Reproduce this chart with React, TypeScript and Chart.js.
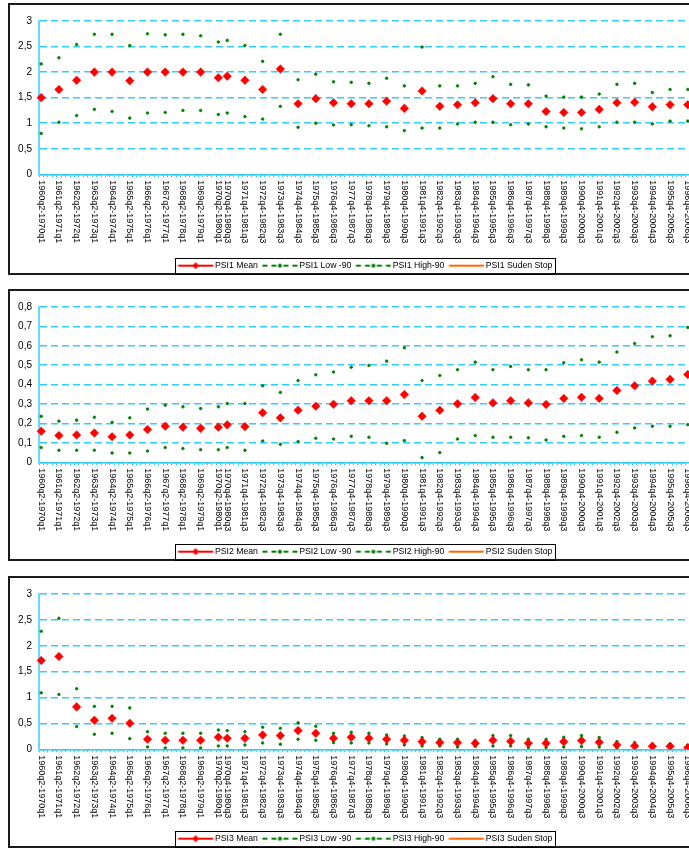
import React, { useEffect, useRef } from 'react';
import { Chart, registerables } from 'chart.js';

Chart.register(...registerables);

// ---------- data ----------
const windows = [
  '1960q2-1970q1', '1961q2-1971q1', '1962q2-1972q1', '1963q2-1973q1', '1964q2-1974q1',
  '1965q2-1975q1', '1966q2-1976q1', '1967q2-1977q1', '1968q2-1978q1', '1969q2-1979q1',
  '1970q2-1980q1', '1970q4-1980q3', '1971q4-1981q3', '1972q4-1982q3', '1973q4-1983q3',
  '1974q4-1984q3', '1975q4-1985q3', '1976q4-1986q3', '1977q4-1987q3', '1978q4-1988q3',
  '1979q4-1989q3', '1980q4-1990q3', '1981q4-1991q3', '1982q4-1992q3', '1983q4-1993q3',
  '1984q4-1994q3', '1985q4-1995q3', '1986q4-1996q3', '1987q4-1997q3', '1988q4-1998q3',
  '1989q4-1999q3', '1990q4-2000q3', '1991q4-2001q3', '1992q4-2002q3', '1993q4-2003q3',
  '1994q4-2004q3', '1995q4-2005q3', '1996q4-2006q3',
];

const psi1Mean = [1.50, 1.66, 1.84, 2.00, 2.00, 1.83, 2.00, 2.00, 2.00, 2.00, 1.89, 1.92, 1.84, 1.66, 2.06, 1.38, 1.48, 1.40,
  1.38, 1.38, 1.43, 1.29, 1.63, 1.33, 1.36, 1.40, 1.48, 1.38, 1.38, 1.23, 1.21, 1.21, 1.27, 1.40, 1.41, 1.32, 1.36, 1.36];
const psi1High = [2.16, 2.28, 2.54, 2.74, 2.74, 2.52, 2.75, 2.73, 2.74, 2.71, 2.59, 2.62, 2.52, 2.21, 2.74, 1.85, 1.96, 1.81,
  1.80, 1.78, 1.88, 1.73, 2.49, 1.73, 1.73, 1.78, 1.91, 1.76, 1.75, 1.53, 1.51, 1.51, 1.57, 1.76, 1.78, 1.60, 1.66, 1.66];
const psi1Low = [0.80, 1.02, 1.15, 1.27, 1.23, 1.10, 1.20, 1.21, 1.25, 1.25, 1.17, 1.20, 1.13, 1.08, 1.33, 0.92, 1.00, 0.965,
  0.97, 0.95, 0.93, 0.855, 0.905, 0.905, 0.985, 1.02, 1.02, 0.97, 0.985, 0.93, 0.905, 0.89, 0.93, 1.02, 1.02, 0.985, 1.04, 1.04];

const psi2Mean = [0.160, 0.138, 0.141, 0.151, 0.132, 0.141, 0.169, 0.186, 0.181, 0.175, 0.181, 0.193, 0.184, 0.255, 0.229, 0.268, 0.289, 0.299,
  0.317, 0.317, 0.317, 0.349, 0.237, 0.268, 0.301, 0.334, 0.306, 0.317, 0.306, 0.298, 0.329, 0.335, 0.329, 0.370, 0.394, 0.418, 0.427, 0.452];
const psi2High = [0.237, 0.212, 0.217, 0.232, 0.206, 0.229, 0.274, 0.294, 0.286, 0.277, 0.286, 0.303, 0.303, 0.394, 0.360, 0.421, 0.451, 0.465,
  0.490, 0.499, 0.521, 0.590, 0.421, 0.447, 0.477, 0.516, 0.477, 0.494, 0.477, 0.477, 0.513, 0.528, 0.516, 0.568, 0.612, 0.647, 0.652, 0.695];
const psi2Low = [0.076, 0.062, 0.062, 0.062, 0.048, 0.048, 0.058, 0.076, 0.071, 0.065, 0.065, 0.076, 0.062, 0.110, 0.093, 0.107, 0.124, 0.120,
  0.134, 0.129, 0.098, 0.112, 0.024, 0.050, 0.120, 0.138, 0.129, 0.129, 0.126, 0.115, 0.134, 0.138, 0.129, 0.155, 0.177, 0.186, 0.186, 0.194];

const psi3Mean = [1.716, 1.794, 0.819, 0.561, 0.600, 0.503, 0.194, 0.174, 0.174, 0.174, 0.232, 0.213, 0.213, 0.277, 0.265, 0.361, 0.310, 0.213,
  0.232, 0.213, 0.194, 0.174, 0.148, 0.129, 0.129, 0.116, 0.174, 0.155, 0.116, 0.116, 0.148, 0.168, 0.135, 0.084, 0.065, 0.058, 0.058, 0.032];
const psi3High = [2.28, 2.53, 1.17, 0.83, 0.83, 0.80, 0.34, 0.31, 0.31, 0.31, 0.374, 0.36, 0.34, 0.426, 0.406, 0.51, 0.445, 0.31,
  0.33, 0.31, 0.277, 0.258, 0.226, 0.194, 0.194, 0.168, 0.265, 0.265, 0.194, 0.194, 0.232, 0.265, 0.226, 0.148, 0.129, 0.103, 0.103, 0.077];
const psi3Low = [1.09, 1.06, 0.44, 0.29, 0.31, 0.206, 0.045, 0.026, 0.026, 0.026, 0.065, 0.065, 0.084, 0.123, 0.097, 0.194, 0.174, 0.129,
  0.123, 0.123, 0.103, 0.084, 0.065, 0.065, 0.045, 0.058, 0.065, 0.065, 0.032, 0.032, 0.045, 0.052, 0.045, 0.026, 0.026, 0.026, 0.019, 0.013];

const suddenStop: number[] = [];

// quarterly category axis, 1960q2 .. 1996q4
const firstYear = 1960;
const lastYear = 1996;
const quarters: string[] = [];
for (let y = firstYear; y <= lastYear; y++) {
  for (let q = 1; q <= 4; q++) {
    if (y === firstYear && q < 2) continue;
    quarters.push(`${y}q${q}`);
  }
}
const labelAtQuarter: Record<string, string> = {};
windows.forEach((w) => { labelAtQuarter[w.slice(0, 6)] = w; });

// ---------- styling ----------
const FAMILY = 'Arial, "Liberation Sans", sans-serif';
const CANVAS_W = 709;
const CANVAS_H = 275;
const Y_AXIS_W = 29;
const RIGHT_GAP = 29;
const GRID = '#33ccff';

function textWidth(t: string, font: string) {
  const ctx = document.createElement('canvas').getContext('2d')!;
  ctx.font = font;
  return ctx.measureText(t).width;
}

function makeSymbol(kind: 'mean' | 'band' | 'stop'): HTMLCanvasElement {
  const c = document.createElement('canvas');
  c.width = 40;
  c.height = 12;
  const g = c.getContext('2d')!;
  const y = 6;
  const x0 = 4.5;
  const x1 = 39.5;
  const cx = (x0 + x1) / 2;
  if (kind === 'mean') {
    g.strokeStyle = '#ff0000';
    g.lineWidth = 2;
    g.beginPath(); g.moveTo(x0, y); g.lineTo(x1, y); g.stroke();
    g.fillStyle = '#ff0000';
    g.beginPath();
    g.moveTo(cx, y - 3.5); g.lineTo(cx + 3.5, y); g.lineTo(cx, y + 3.5); g.lineTo(cx - 3.5, y);
    g.closePath(); g.fill();
  } else if (kind === 'band') {
    g.strokeStyle = '#008000';
    g.lineWidth = 2;
    const segs = [[x0, x0 + 5], [x0 + 9, x0 + 14], [x0 + 21, x0 + 26], [x0 + 30, x0 + 35]];
    segs.forEach(([a, b]) => { g.beginPath(); g.moveTo(a, y); g.lineTo(b, y); g.stroke(); });
    g.fillStyle = '#008000';
    g.beginPath(); g.arc(cx, y, 2, 0, Math.PI * 2); g.fill();
  } else {
    g.strokeStyle = '#ff6600';
    g.lineWidth = 2;
    g.beginPath(); g.moveTo(x0, y); g.lineTo(x1, y); g.stroke();
  }
  return c;
}

const legendBoxPlugin = {
  id: 'legendBox',
  afterDraw(chart: any) {
    const hb = chart.legend?.legendHitBoxes;
    if (!hb || !hb.length) return;
    const ctx = chart.ctx;
    const last = hb[hb.length - 1];
    const left = Math.round(hb[0].left - 1.5);
    const right = Math.round(last.left + last.width + 3);
    const top = Math.round(hb[0].top - 3.5);
    const bottom = Math.round(hb[0].top + hb[0].height + 3.5);
    ctx.save();
    ctx.strokeStyle = '#000';
    ctx.lineWidth = 1;
    ctx.strokeRect(left + 0.5, top + 0.5, right - left, bottom - top);
    ctx.restore();
  },
};

type PanelProps = {
  top: number;
  name: string;
  mean: number[];
  low: number[];
  high: number[];
  yMax: number;
  yStep: number;
  xAxisH: number;
};

function Panel({ top, name, mean, low, high, yMax, yStep, xAxisH }: PanelProps) {
  const ref = useRef<HTMLCanvasElement | null>(null);

  useEffect(() => {
    if (!ref.current) return;
    const xFont = `9px ${FAMILY}`;
    const lw = textWidth(windows[0], xFont);
    const toPoints = (vals: number[]) => windows.map((w, i) => ({ x: w.slice(0, 6), y: vals[i] }));
    const symbols = [makeSymbol('mean'), makeSymbol('band'), makeSymbol('band'), makeSymbol('stop')];

    const chart = new Chart(ref.current, {
      type: 'line',
      data: {
        labels: quarters,
        datasets: [
          {
            label: `${name} Mean`, data: toPoints(mean) as any, showLine: false,
            pointStyle: 'rectRot', pointRadius: 4.3, pointBorderWidth: 0.5,
            pointBackgroundColor: '#ff0000', pointBorderColor: '#ff0000',
            borderColor: '#ff0000', backgroundColor: '#ff0000',
          },
          {
            label: `${name} Low -90`, data: toPoints(low) as any, showLine: false,
            pointStyle: 'circle', pointRadius: 1.3, pointBorderWidth: 0.8,
            pointBackgroundColor: '#008000', pointBorderColor: '#008000',
            borderColor: '#008000', backgroundColor: '#008000',
          },
          {
            label: `${name} High-90`, data: toPoints(high) as any, showLine: false,
            pointStyle: 'circle', pointRadius: 1.3, pointBorderWidth: 0.8,
            pointBackgroundColor: '#008000', pointBorderColor: '#008000',
            borderColor: '#008000', backgroundColor: '#008000',
          },
          {
            label: `${name} Suden Stop`, data: suddenStop as any,
            borderColor: '#ff6600', backgroundColor: '#ff6600', borderWidth: 2, pointRadius: 0,
          },
        ],
      },
      options: {
        animation: false,
        responsive: false,
        events: [],
        layout: { padding: { left: 0, right: 0, top: 16, bottom: 0 } },
        scales: {
          x: {
            type: 'category',
            offset: true,
            grid: { offset: true, drawOnChartArea: false, drawTicks: true, tickLength: 3, color: GRID, lineWidth: 1 },
            border: { display: true, color: GRID, width: 1.5 },
            ticks: {
              autoSkip: false,
              minRotation: -90,
              maxRotation: -90,
              padding: lw + 3,
              color: '#000',
              font: { family: FAMILY, size: 9 },
              callback: (_v: any, i: number) => labelAtQuarter[quarters[i]] || '',
            },
            afterFit: (s: any) => {
              s.height = xAxisH;
              s.paddingLeft = 0;
              s.paddingRight = RIGHT_GAP;
            },
          },
          y: {
            min: 0,
            max: yMax,
            ticks: {
              stepSize: yStep,
              padding: 7,
              color: '#000',
              font: { family: FAMILY, size: 10 },
              callback: (v: any) => String(Math.round(Number(v) * 10) / 10).replace('.', ','),
            },
            grid: { color: GRID, lineWidth: 1.5, drawTicks: false },
            border: { display: true, color: '#66d9ff', width: 2, dash: [7, 4] },
            afterFit: (s: any) => { s.width = Y_AXIS_W; },
          },
        },
        plugins: {
          legend: {
            position: 'bottom',
            labels: {
              usePointStyle: true,
              pointStyleWidth: 34,
              padding: 3,
              color: '#000',
              font: { family: FAMILY, size: 8.7 },
              generateLabels: (c: any) => {
                const items = (Chart.defaults.plugins.legend.labels as any).generateLabels(c);
                return items.map((it: any, i: number) => ({ ...it, pointStyle: symbols[i], fontColor: '#000' }));
              },
            },
          },
          tooltip: { enabled: false },
        },
      },
      plugins: [legendBoxPlugin],
    } as any);
    return () => chart.destroy();
  }, [name, mean, low, high, yMax, yStep, xAxisH]);

  return (
    <div
      style={{
        position: 'absolute', left: 8, top, width: CANVAS_W + 4, height: 272,
        boxSizing: 'border-box', border: '2px solid #1a1a1a', background: '#fff',
      }}
    >
      <canvas ref={ref} width={CANVAS_W} height={CANVAS_H}
        style={{ position: 'absolute', left: 0, top: 0, width: CANVAS_W, height: CANVAS_H }} />
    </div>
  );
}

export default function App() {
  return (
    <div style={{ position: 'absolute', left: 0, top: 0, width: 689, height: 850, overflow: 'hidden', background: '#fff' }}>
      <Panel top={3} name="PSI1" mean={psi1Mean} low={psi1Low} high={psi1High} yMax={3} yStep={0.5} xAxisH={84} />
      <Panel top={289} name="PSI2" mean={psi2Mean} low={psi2Low} high={psi2High} yMax={0.8} yStep={0.1} xAxisH={82} />
      <Panel top={576} name="PSI3" mean={psi3Mean} low={psi3Low} high={psi3High} yMax={3} yStep={0.5} xAxisH={82} />
    </div>
  );
}
